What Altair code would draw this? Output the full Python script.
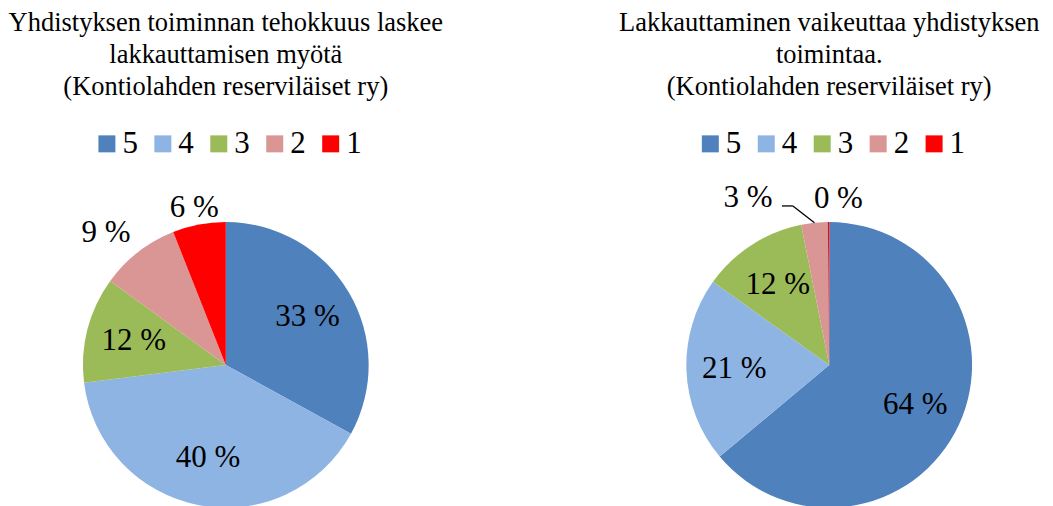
import altair as alt
import pandas as pd

categories = ["5", "4", "3", "2", "1"]
colors = ["#4F81BD", "#8EB4E3", "#9BBB59", "#D99694", "#FF0000"]
left_values = [33, 40, 12, 9, 6]
right_values = [64, 21, 12, 3, 0.15]
left_title = ["Yhdistyksen toiminnan tehokkuus laskee", "lakkauttamisen myötä",
              "(Kontiolahden reserviläiset ry)"]
right_title = ["Lakkauttaminen vaikeuttaa yhdistyksen", "toimintaa.",
               "(Kontiolahden reserviläiset ry)"]

FONT = "Liberation Serif, Times New Roman, serif"
W = 432
H = 400
PAD_TOP = 1
OFFSET = 6
TOP = 99 + PAD_TOP + OFFSET   # page y of plot-area top
CX = W / 2
CY = 365 - TOP
R = 143


def shift_expr(m):
    e = "0"
    for k, v in m.items():
        e = f"(datum.cat == '{k}' ? {v} : {e})"
    return e


def panel(values, title, dx_map, dy_map, callout=None):
    df = pd.DataFrame({"cat": categories, "value": values, "ord": list(range(len(categories)))})
    base = alt.Chart(df)
    arc = base.mark_arc(outerRadius=R, stroke=None).encode(
        theta=alt.Theta("value:Q", stack=True),
        color=alt.Color("cat:N", sort=categories,
                        scale=alt.Scale(domain=categories, range=colors),
                        legend=alt.Legend(orient="none", legendX=81.5, legendY=128 - TOP,
                                          direction="horizontal", title=None,
                                          symbolType="square", symbolSize=289,
                                          symbolStrokeWidth=0, labelFont=FONT,
                                          labelFontSize=31, labelOffset=0,
                                          columnPadding=9, padding=0,
                                          labelColor="black")),
        order=alt.Order("ord:Q"),
        x=alt.value(CX), y=alt.value(CY),
    )
    lab = base.transform_window(
        cum="sum(value)", sort=[alt.SortField("ord")], frame=[None, 0]
    ).transform_joinaggregate(total="sum(value)").transform_calculate(
        a="(datum.cum - datum.value / 2) / datum.total * 2 * PI",
        r="datum.value / datum.total >= 0.1 ? 95 : 168",
        dx=shift_expr(dx_map),
        dy=shift_expr(dy_map),
    ).transform_calculate(
        lx=f"{CX} + datum.r * sin(datum.a) + datum.dx",
        ly=f"{CY} - datum.r * cos(datum.a) + datum.dy",
        ex=f"{CX} + {R} * sin(datum.a)",
        ey=f"{CY} - {R} * cos(datum.a)",
        label="round(datum.value) + ' %'",
    )
    text = lab.mark_text(font=FONT, fontSize=31, color="black", align="center",
                         baseline="middle").encode(
        x=alt.X("lx:Q", scale=None, axis=None),
        y=alt.Y("ly:Q", scale=None, axis=None),
        text="label:N",
    )
    layers = [arc, text]
    if callout:
        c = lab.transform_filter(f"datum.cat == '{callout}'").transform_calculate(
            bx="datum.lx + 45", by="datum.ly + 8", hx="datum.lx + 34")
        seg1 = c.mark_rule(color="black", strokeWidth=1.3).encode(
            x=alt.X("ex:Q", scale=None, axis=None), y=alt.Y("ey:Q", scale=None, axis=None),
            x2="bx:Q", y2="by:Q")
        seg2 = c.mark_rule(color="black", strokeWidth=1.3).encode(
            x=alt.X("bx:Q", scale=None, axis=None), y=alt.Y("by:Q", scale=None, axis=None),
            x2="hx:Q", y2="by:Q")
        layers += [seg1, seg2]
    return alt.layer(*layers).properties(
        width=W, height=H,
        title=alt.TitleParams(text=title, font=FONT, fontSize=26.5, fontWeight="normal",
                              lineHeight=32, anchor="middle", color="black", offset=OFFSET),
    )


left = panel(left_values, left_title, {"2": -17}, {"1": 8, "2": 1})
right = panel(right_values, right_title, {"2": -64, "1": 10}, {"1": 2}, callout="2")

chart = alt.hconcat(left, right, spacing=172, bounds="flush").resolve_scale(
    color="independent").resolve_legend(color="independent").properties(
    padding={"left": 0, "top": PAD_TOP, "right": 0, "bottom": 0}
).configure_view(stroke=None)

chart.save("out.html", embed_options={"renderer": "svg", "actions": False})
